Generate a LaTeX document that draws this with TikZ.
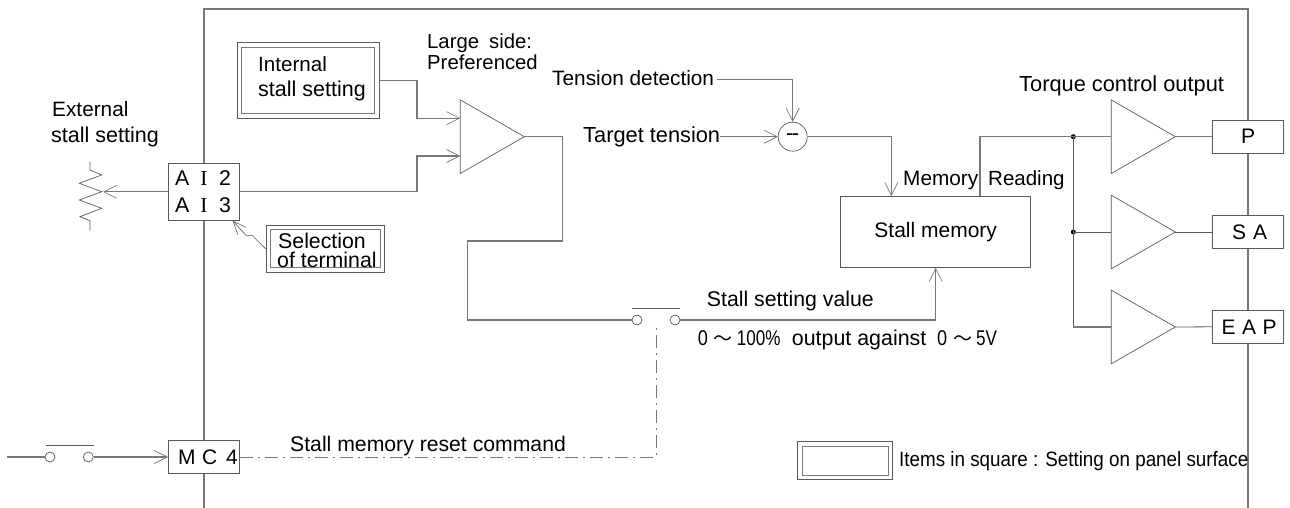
\documentclass[tikz,border=0pt]{standalone}
\usepackage{fontspec}
\setmainfont{Liberation Sans}
\newfontfamily\serifI{Liberation Serif}
\newfontfamily\cjkJ{Noto Sans CJK JP}
\usetikzlibrary{arrows.meta}
\definecolor{ln}{HTML}{787878}
\definecolor{bx}{HTML}{5a5a5a}
\newcommand{\fs}[1]{\fontsize{#1}{24}\selectfont}
\tikzset{
  conn/.style={draw=ln,line width=1.15pt},
  thin line/.style={draw=bx,line width=0.8pt},
  arr/.style={conn,-{Straight Barb[length=13pt,width=13pt,line width=0.7pt]}},
  tbox/.style={draw=bx,line width=0.9pt,fill=white,inner sep=0pt,font=\fs{21}},
  dblout/.style={draw=bx,line width=0.8pt,fill=white,inner sep=0pt},
  dblin/.style={draw=ln,line width=0.9pt,fill=white,inner sep=0pt},
  lbl/.style={inner sep=0pt,anchor=base west,text=black,font=\fs{21.3}},
  contact/.style={circle,draw=bx,line width=0.7pt,fill=white,minimum size=10pt,inner sep=0pt},
  jdot/.style={circle,fill=black,minimum size=5pt,inner sep=0pt},
  dashdot/.style={draw=ln,line width=1pt,dash pattern=on 13pt off 5pt on 2pt off 5pt},
  ampl/.style={draw=bx,line width=0.7pt,fill=white}
}
\newcommand{\ampbody}[3]{% name, x of base, y of centre
  \coordinate (#1b) at (#2,#3);
  \coordinate (#1t) at (#2+64,#3);
  \draw[ampl] (#2,#3-36.8) -- (#1t) -- (#2,#3+36.8) -- cycle;
}
\newcommand{\tildeJ}{{\cjkJ\fontsize{19}{24}\selectfont ～}}
\begin{document}
\begin{tikzpicture}[x=1pt,y=-1pt]
\useasboundingbox (0,0) rectangle (1290,508);
% frame
\coordinate (fbl) at (204,508);
\coordinate (ftl) at (204,9);
\coordinate (ftr) at (1248,9);
\coordinate (fbr) at (1248,508);
\draw[conn] (fbl) -- (ftl) -- (ftr) -- (fbr);

% boxes
\node[tbox,minimum width=71pt,minimum height=56.5pt] (ai) at (204,191.8) {};
\node[tbox,minimum width=71pt,minimum height=32.6pt] (mc) at (204,457) {\hspace{8pt}M\hspace{6.5pt}C\hspace{9pt}4};
\node[tbox,minimum width=71.4pt,minimum height=32.5pt] (p) at (1248,136.7) {P};
\node[tbox,minimum width=71.4pt,minimum height=33pt] (sa) at (1248,232) {\hspace{3pt}S\hspace{7pt}A};
\node[tbox,minimum width=71.4pt,minimum height=33pt] (eap) at (1248,326.8) {\hspace{2pt}E\hspace{6.5pt}A\hspace{6.5pt}P};
\node[tbox,minimum width=190pt,minimum height=71pt] (mem) at (935.7,231.8) {Stall memory\hspace{5pt}};
\node[dblout,minimum width=141.5pt,minimum height=75.5pt] (int) at (308.2,80.3) {};
\node[dblin,minimum width=133.5pt,minimum height=65.5pt] (inti) at (307.8,80.3) {};
\node[dblout,minimum width=118.5pt,minimum height=47.3pt] (sel) at (325.2,248.7) {};
\node[dblin,minimum width=110.3pt,minimum height=38.2pt] (seli) at (325.2,248.4) {};
\node[dblout,minimum width=95.4pt,minimum height=37.6pt] (leg) at (845,460.5) {};
\node[dblin,minimum width=86pt,minimum height=28.3pt] (legi) at (845,460.8) {};

% amplifiers
\ampbody{a}{460.3}{136.7}
\ampbody{b}{1111.3}{136.7}
\ampbody{c}{1111.3}{232}
\ampbody{d}{1111.3}{327}

% labels
\node[lbl,font=\fs{20.6}] (tint1) at (258,72) {Internal};
\node[lbl,font=\fs{21.5}] (tint2) at (258,97) {stall setting};
\node[lbl,font=\fs{20.8}] (text1) at (52,117) {External};
\node[lbl,font=\fs{21.5}] (text2) at (51,142.5) {stall setting};
\node[lbl,font=\fs{21.3}] (ai2) at (175,185) {A\hspace{11pt}{\serifI I}\hspace{11.5pt}2};
\node[lbl,font=\fs{21.3}] (ai3) at (175,212) {A\hspace{11pt}{\serifI I}\hspace{11.5pt}3};
\node[lbl] (tsel1) at (278,248) {Selection};
\node[lbl] (tsel2) at (277,267) {of terminal};
\node[lbl,font=\fs{20.3}] (large) at (427,49) {Large\hspace{4.5pt} side:};
\node[lbl,font=\fs{20.3}] (pref) at (427,69.3) {Preferenced};
\node[lbl,font=\fs{20.8}] (tdet) at (552,85.7) {Tension detection};
\node[lbl,font=\fs{21.8}] (ttar) at (583,142.3) {Target tension};
\node[lbl,font=\fs{20.8}] (tmem) at (903,185) {Memory};
\node[lbl,font=\fs{20.5}] (trea) at (988,185) {Reading};
\node[lbl,font=\fs{21.8}] (ttor) at (1019,92) {Torque control output};
\node[lbl] (tval) at (706.7,306) {Stall setting value};
\node[lbl] (t0a) at (697.7,345.7) {\scalebox{0.85}[1]{0} \tildeJ\hspace{4pt}\scalebox{0.8}[1]{100\%}};
\node[lbl,font=\fs{21.4}] (toa) at (791.7,345.7) {output against};
\node[lbl] (t0b) at (937,345.7) {\scalebox{0.85}[1]{0} \tildeJ\hspace{4pt}\scalebox{0.8}[1]{5V}};
\node[lbl,font=\fs{21.2}] (trst) at (290,451.7) {Stall memory reset command};
\node[lbl,font=\fs{20.8}] (tleg) at (899,466) {\scalebox{0.905}[1]{Items in square : Setting on panel surface}};

% summing point
\node[circle,draw=bx,line width=0.7pt,fill=white,minimum size=29pt,inner sep=0pt,font=\fs{22}] (sum) at (792.7,136.7) {-\kern-1.5pt{}-};

% internal setting to comparator
\coordinate (k1) at (417,80.3);
\coordinate (k2) at (417,118.2);
\coordinate (k3) at (460.3,118.2);
\draw[arr] (int.east) -- (k1) -- (k2) -- (k3);
\coordinate (k4) at (417,191.8);
\coordinate (k5) at (417,156);
\coordinate (k6) at (460.3,156);
\draw[arr] (ai.east) -- (k4) -- (k5) -- (k6);

% comparator to switch to memory
\node[contact] (sw1) at (637,320) {};
\node[contact] (sw2) at (675,320) {};
\coordinate (bar1a) at (632,308.3);
\coordinate (bar1b) at (680,308.3);
\draw[thin line] (bar1a) -- (bar1b);
\coordinate (m1) at (562.5,136.7);
\coordinate (m2) at (562.5,241);
\coordinate (m3) at (467.5,241);
\coordinate (m4) at (467.5,320);
\draw[conn] (at) -- (m1) -- (m2) -- (m3) -- (m4) -- (sw1.west);
\coordinate (m5) at (935.7,320);
\draw[arr] (sw2.east) -- (m5) -- (mem.south);

% tension
\coordinate (d0) at (716.7,79.7);
\coordinate (d1) at (792.7,79.7);
\draw[arr] (d0) -- (d1) -- (sum.north);
\coordinate (e0) at (720,136.7);
\draw[arr] (e0) -- (sum.west);
\coordinate (f1) at (891.3,136.7);
\coordinate (f2) at (891.3,196.3);
\draw[arr] (sum.east) -- (f1) -- (f2);

% reading to output amps
\coordinate (g0) at (980,196.3);
\coordinate (g1) at (980,136.7);
\node[jdot] (j1) at (1073.3,136.7) {};
\node[jdot] (j2) at (1073.3,232) {};
\coordinate (j3) at (1073.3,327);
\draw[conn] (g0) -- (g1) -- (j1.center) -- (bb);
\draw[thin line] (j1.center) -- (j2.center);
\draw[thin line] (j2.center) -- (cb);
\draw[thin line] (j2.center) -- (j3);
\draw[conn] (j3) -- (db);
\draw[conn] (bt) -- (p.west);
\draw[thin line] (ct) -- (sa.west);
\draw[thin line] (dt) -- (eap.west);

% potentiometer
\coordinate (w) at (103,191.8);
\draw[thin line,line width=0.7pt] (90,161.7) -- (90,170) -- (101.7,175) -- (79.3,183.3) -- (101.7,191.7) -- (79.3,200) -- (101.7,208.3) -- (80,216.7) -- (90,220.7) -- (90,230.7);
\draw[arr] (ai.west |- w) -- (w);

% selection pointer
\coordinate (s1) at (251.7,235);
\coordinate (s2) at (246.7,236);
\coordinate (s3) at (241,230);
\coordinate (s4) at (232.7,220.7);
\draw[thin line,line width=0.6pt,-{Straight Barb[length=13pt,width=11pt,line width=0.6pt]}] (sel.west) -- (s1) -- (s2) -- (s3) -- (s4);

% external switch
\coordinate (h0) at (7,457);
\node[contact] (sw3) at (50,457) {};
\node[contact] (sw4) at (88.3,457) {};
\coordinate (bar2a) at (45.7,445);
\coordinate (bar2b) at (93.7,445);
\draw[thin line] (bar2a) -- (bar2b);
\draw[conn] (h0) -- (sw3.west);
\draw[arr] (sw4.east) -- (mc.west);

% reset command
\coordinate (r1) at (656.3,457);
\coordinate (r2) at (656.3,326.7);
\draw[dashdot] (mc.east) -- (r1) -- (r2);
\end{tikzpicture}
\end{document}
